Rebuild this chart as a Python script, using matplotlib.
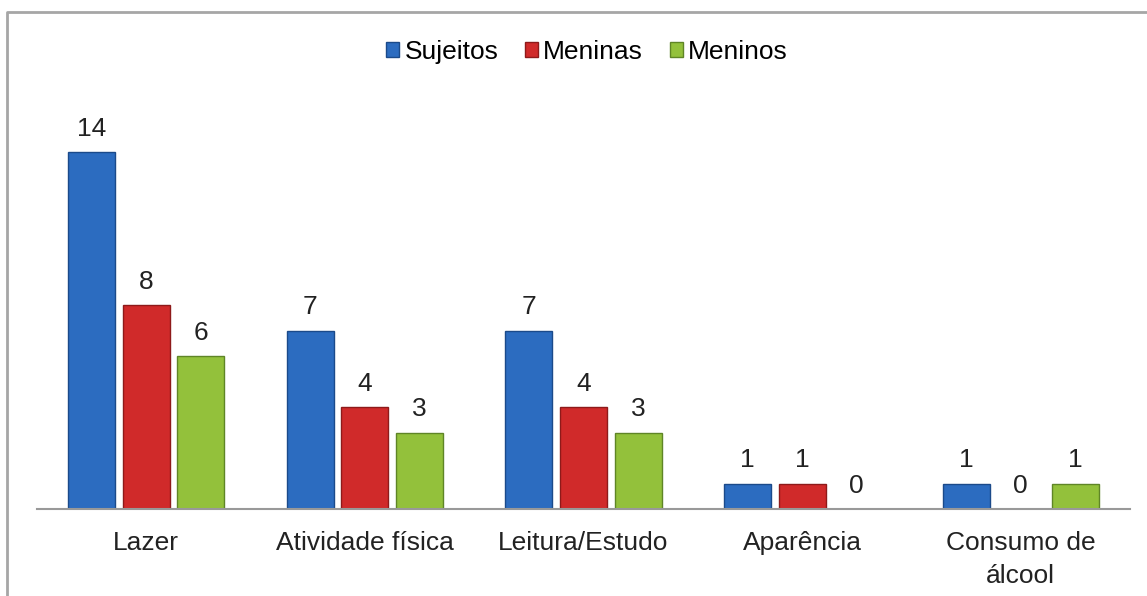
import matplotlib.pyplot as plt
import numpy as np
from matplotlib.lines import Line2D
from matplotlib.patches import Patch

plt.rcParams['font.family'] = ['Liberation Sans', 'DejaVu Sans']

categorias = ['Lazer', 'Atividade física', 'Leitura/Estudo', 'Aparência', 'Consumo de\nálcool']
sujeitos = [14, 7, 7, 1, 1]
meninas = [8, 4, 4, 1, 0]
meninos = [6, 3, 3, 0, 1]

series = ['Sujeitos', 'Meninas', 'Meninos']
cores = ['#2C6CC0', '#D02A2A', '#93C13B']
bordas = ['#1B4A8A', '#8E1A1A', '#5F8526']
fs = 19

W, H = 1147, 596
fig = plt.figure(figsize=(W / 100, H / 100), dpi=100)

# posição dos eixos em pixels
x0, x1, yb = 37, 1130, 509
unid = (509 - 152) / 14.0
ymax = 16
ax = fig.add_axes([x0 / W, (H - yb) / H, (x1 - x0) / W, ymax * unid / H])

x = np.arange(len(categorias))
larg = 0.215
passo = 0.25
for i, (vals, cor, borda) in enumerate(zip([sujeitos, meninas, meninos], cores, bordas)):
    pos = x + (i - 1) * passo
    barras = ax.bar(pos, vals, larg, color=cor, edgecolor=borda, linewidth=1.0, zorder=2)
    for b, v in zip(barras, vals):
        ax.annotate(str(v), (b.get_x() + b.get_width() / 2, v), xytext=(0, 8),
                    textcoords='offset points', ha='center', va='bottom',
                    fontsize=fs, color='#222222')

ax.set_xlim(-0.5, len(categorias) - 0.5)
ax.set_ylim(0, ymax)
ax.set_xticks(x)
ax.set_xticklabels(categorias, fontsize=fs, color='#222222', linespacing=1.45)
ax.tick_params(axis='x', length=0, pad=16)
ax.set_yticks([])
for s in ['top', 'right', 'left']:
    ax.spines[s].set_visible(False)
ax.spines['bottom'].set_color('#999999')
ax.spines['bottom'].set_linewidth(1.5)
ax.patch.set_alpha(0)

# moldura do gráfico
moldura = Line2D([7 / W, 7 / W, 1.0], [0.0, 1 - 11.5 / H, 1 - 11.5 / H],
                 transform=fig.transFigure, color='#A6A6A6', linewidth=2)
fig.add_artist(moldura)

handles = [Patch(facecolor=c, edgecolor=b) for c, b in zip(cores, bordas)]
fig.legend(handles, series, loc='center', bbox_to_anchor=(587 / W, 1 - 52 / H),
           ncol=3, frameon=False, fontsize=fs, handlelength=0.5, handleheight=0.5,
           handletextpad=0.2, columnspacing=1.0)

fig.savefig('out.png', dpi=100)
